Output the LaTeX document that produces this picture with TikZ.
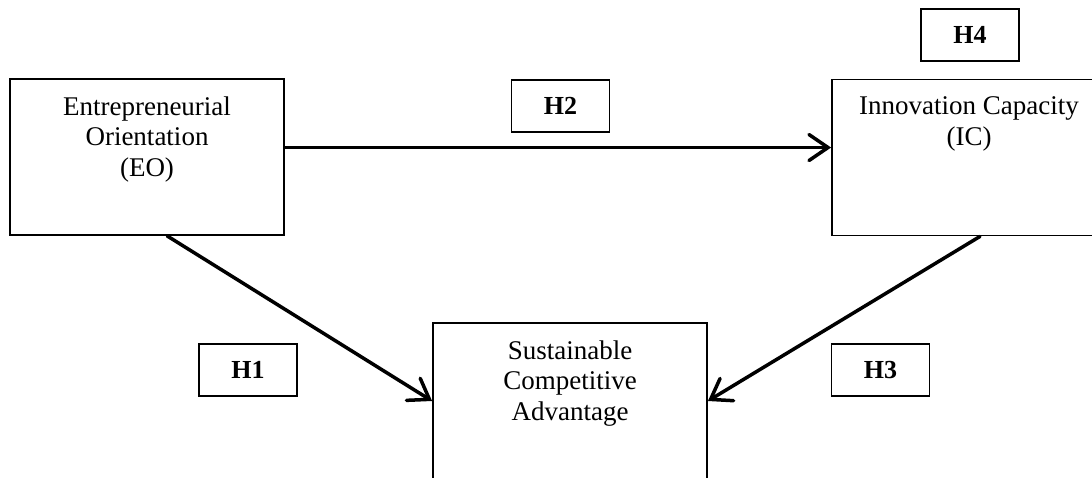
\documentclass[tikz,border=0pt]{standalone}
\usepackage{fontspec}
\setmainfont{Liberation Serif}
\usetikzlibrary{arrows.meta,calc}

\begin{document}
\begin{tikzpicture}
		% Drawing styles for the research model
		[x=1pt, y=-1pt,
		construct/.style={draw=black, line width=1.8pt, minimum width=274pt, minimum height=156pt, inner sep=0pt},
		constructtext/.style={anchor=north, align=center, inner sep=0pt, yshift=-18pt, font=\fontsize{27}{30.5}\selectfont},
		hyp/.style={draw=black, line width=1.8pt, minimum width=98pt, minimum height=52pt, inner sep=0pt, font=\fontsize{26}{30}\selectfont\bfseries},
		link/.style={line width=3.5pt, line cap=round, -{Straight Barb[length=19pt, width=26pt, line cap=round]}}]

		\useasboundingbox (0,0) rectangle (1092,477);
		\clip (0,0) rectangle (1092,477);

		% The three constructs
		\node[construct] (eo) at (147,157) {};
		\node[construct] (ic) at (969,157.5) {};
		\node[construct] (sca) at (570,401) {};

		\node[constructtext] (eo-text) at (eo.north) {Entrepreneurial\\Orientation\\(EO)};
		\node[constructtext] (ic-text) at (ic.north) {Innovation Capacity\\(IC)};
		\node[constructtext] (sca-text) at (sca.north) {Sustainable\\Competitive\\Advantage};

		% Hypotheses
		\node[hyp] (h1) at (248,370) {H1};
		\node[hyp] (h2) at (560.5,106) {H2};
		\node[hyp] (h3) at (880.5,370) {H3};
		\node[hyp] (h4) at (970,35) {H4};

		% Paths between the constructs
		\coordinate (eo-right) at ($(eo.north east)!0.44!(eo.south east)$);
		\draw[link] (eo-right) -- (eo-right -| ic.west);
		\draw[link] ($(eo.south west)!0.573!(eo.south east)$) -- (sca.west);
		\draw[link] ($(ic.south west)!0.54!(ic.south east)$) -- (sca.east);
	\end{tikzpicture}
\end{document}
